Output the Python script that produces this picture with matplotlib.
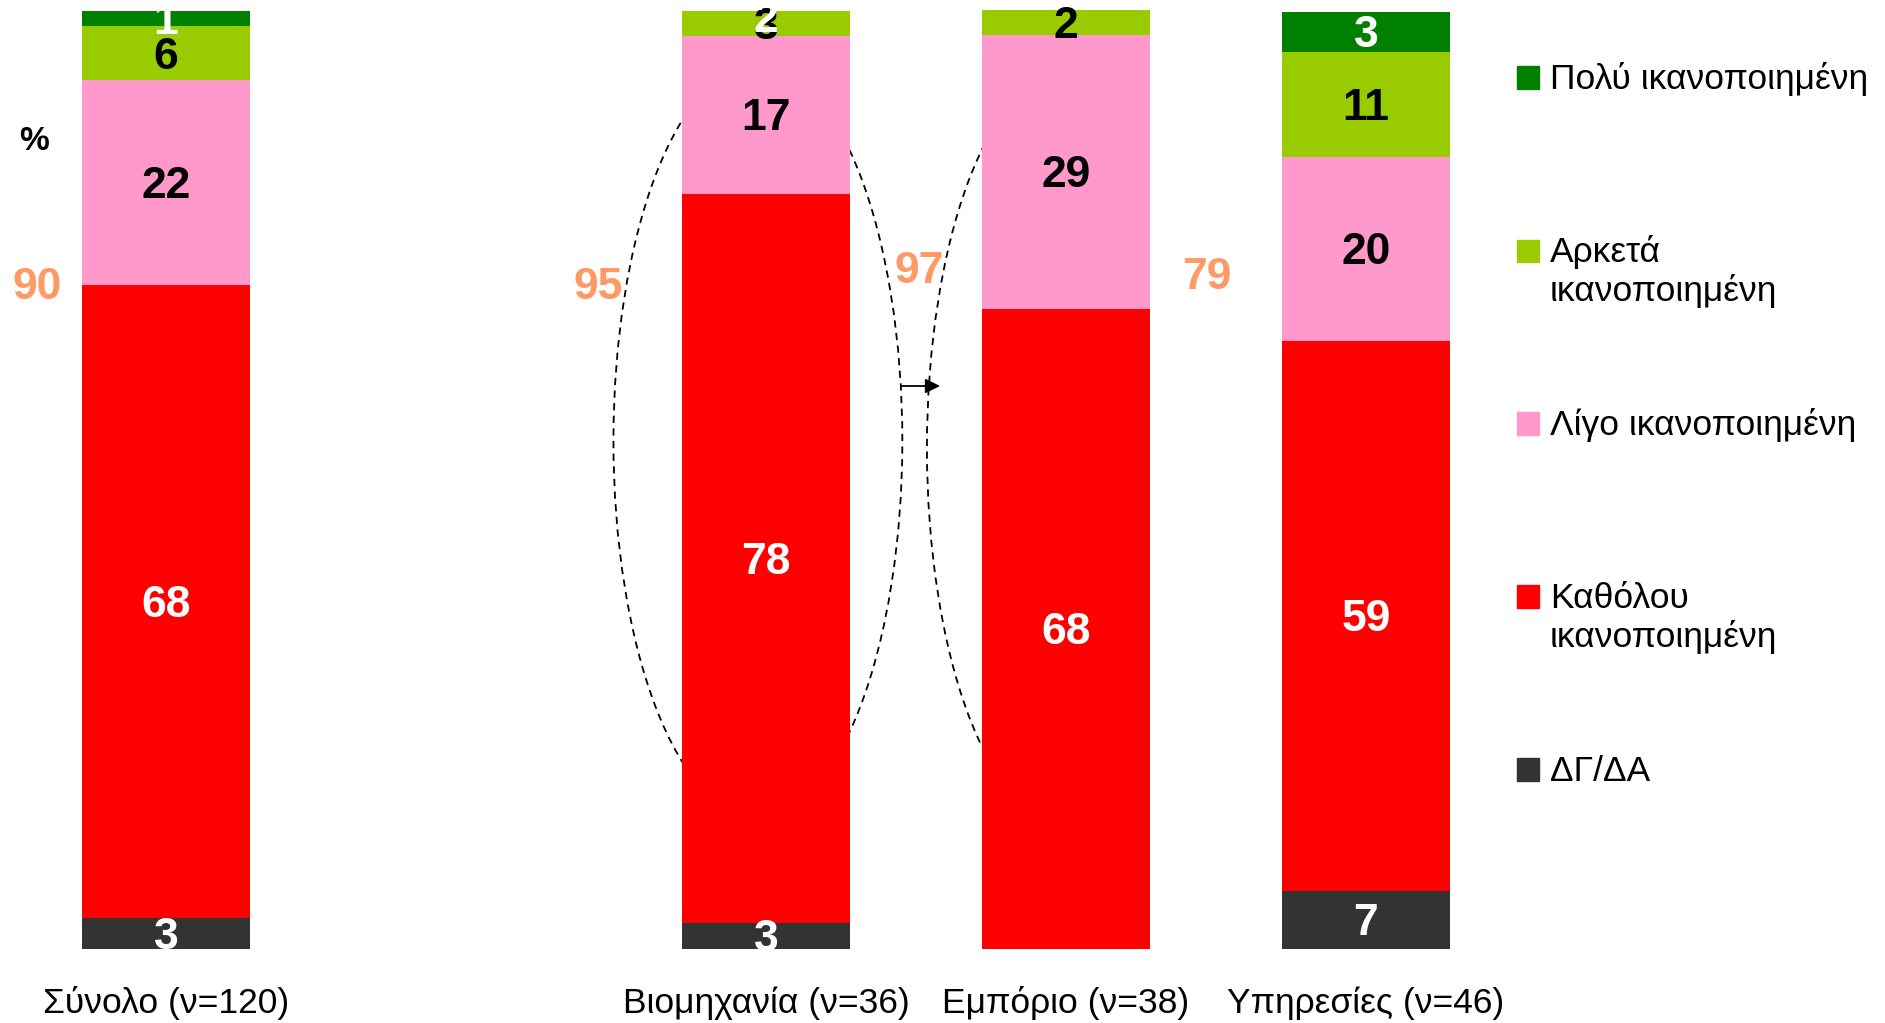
import numpy as np
import matplotlib
matplotlib.use("Agg")
import matplotlib.pyplot as plt
from matplotlib.patches import Ellipse, Arc, Rectangle

plt.rcParams['font.family'] = ['Liberation Sans', 'DejaVu Sans']

# data (segment heights, bottom to top)
categories = ['Σύνολο (ν=120)', 'Βιομηχανία (ν=36)', 'Εμπόριο (ν=38)', 'Υπηρεσίες (ν=46)']
positions = [0, 2, 3, 4]

dg_da = [3.3, 2.8, 0.0, 6.2]
katholou = [67.4, 77.6, 68.2, 58.6]
ligo = [21.8, 16.8, 29.1, 19.6]
arketa = [5.75, 2.7, 2.7, 11.1]
poly = [1.7, 0.0, 0.0, 4.3]

dg_da_lbl = ['3', '3', '', '7']
katholou_lbl = ['68', '78', '68', '59']
ligo_lbl = ['22', '17', '29', '20']
arketa_lbl = ['6', '3', '2', '11']
poly_lbl = ['1', '2', '', '3']

totals = ['90', '95', '97', '79']   # Λίγο + Καθόλου
total_dx = [-0.43, -0.56, -0.49, -0.53]
total_y = [70.4, 70.4, 72.2, 71.5]

series = [
    ('ΔΓ/ΔΑ', dg_da, dg_da_lbl, '#333333', 'white'),
    ('Καθόλου\nικανοποιημένη', katholou, katholou_lbl, '#FF0000', 'white'),
    ('Λίγο ικανοποιημένη', ligo, ligo_lbl, '#FF99CC', 'black'),
    ('Αρκετά\nικανοποιημένη', arketa, arketa_lbl, '#99CC00', 'black'),
    ('Πολύ ικανοποιημένη', poly, poly_lbl, '#008000', 'white'),
]

fig = plt.figure(figsize=(18.85, 10.23), dpi=100)
ax = fig.add_axes([0, 0, 1, 1])
ax.set_xlim(-0.5533, 5.73)
ax.set_ylim(-7.88, 101.07)
ax.axis('off')

bw = 0.56
bottom = np.zeros(len(positions))
for name, vals, lbls, col, tcol in series:
    vals = np.array(vals)
    ax.bar(positions, vals, bw, bottom=bottom, color=col, zorder=2)
    for x, b, h, t in zip(positions, bottom, vals, lbls):
        if not t:
            continue
        y = b + h / 2 - 0.4 if h > 0 else b - 1.0
        ax.text(x, y, t, ha='center', va='center', color=tcol,
                fontsize=32, fontweight='bold', zorder=5)
    bottom += vals

# orange totals
for x, dx, yy, t in zip(positions, total_dx, total_y, totals):
    ax.text(x + dx, yy, t, ha='center', va='center', color='#FF9966',
            fontsize=32, fontweight='bold', zorder=5)

ax.text(-0.44, 86.0, '%', ha='center', va='center', fontsize=24, fontweight='bold')

# category labels
for x, c in zip(positions, categories):
    ax.text(x, -5.75, c, ha='center', va='center', fontsize=25.5)

# dashed ellipse / arc behind bars
ax.add_patch(Ellipse((1.973, 54.1), 0.963, 80.2, fill=False, ec='black',
                     lw=1.3, ls=(0, (4, 3)), zorder=1))
ax.add_patch(Arc((3.003, 53.35), 0.933, 80.0, theta1=90, theta2=270,
                 ec='black', lw=1.3, ls=(0, (4, 3)), zorder=1))
ax.annotate('', xy=(2.58, 59.96), xytext=(2.453, 59.96),
            arrowprops=dict(arrowstyle='-|>', color='black', lw=1.3,
                            mutation_scale=22, shrinkA=0, shrinkB=0), zorder=3)

# legend (top to bottom)
leg_y = [91.59, 73.16, 54.74, 36.32, 17.89]   # square bottoms
for (name, vals, lbls, col, tcol), y in zip(series[::-1], leg_y):
    ax.add_patch(Rectangle((4.503, y), 0.075, 2.4, color=col, zorder=3))
    for i, line in enumerate(name.split('\n')):
        ax.text(4.613, y - i * 4.15, line, ha='left', va='baseline', fontsize=25.5)

fig.savefig('out.png', dpi=100)
